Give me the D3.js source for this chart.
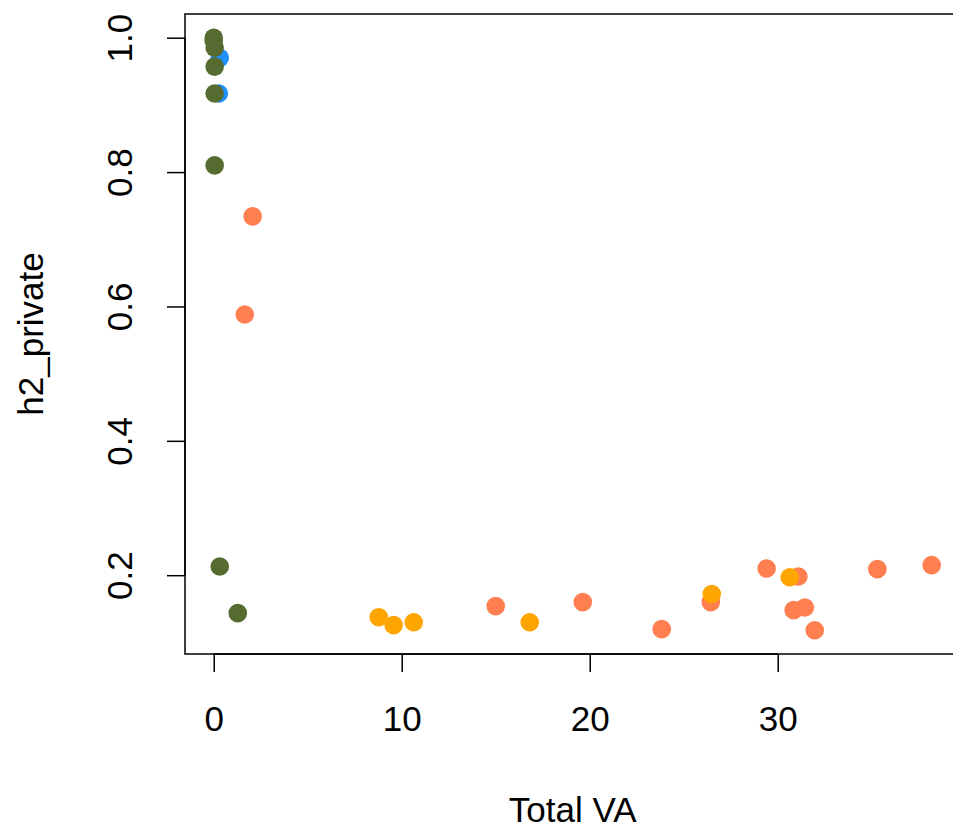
<!DOCTYPE html>
<html>
<head>
<meta charset="utf-8">
<script src="https://cdn.jsdelivr.net/npm/d3@7"></script>
<style>
  body { margin: 0; background: #fff; }
  text { font-family: "Liberation Sans", Arial, sans-serif; fill: #000; }
</style>
</head>
<body>
<div id="chart"></div>
<script>
// Data
const coralX  = [2.07, 1.65, 15.0, 19.63, 23.83, 26.44, 29.41, 31.1, 30.85, 31.44, 31.97, 35.3, 38.19];
const coralY  = [0.734, 0.588, 0.154, 0.160, 0.1197, 0.160, 0.210, 0.198, 0.148, 0.152, 0.118, 0.209, 0.215];
const orangeX = [8.78, 9.57, 10.64, 16.81, 26.49, 30.64];
const orangeY = [0.1375, 0.1257, 0.130, 0.130, 0.172, 0.197];
const blueX   = [0.32, 0.27];
const blueY   = [0.970, 0.917];
const oliveX  = [0.0, 0.0, 0.05, 0.05, 0.05, 0.05, 0.32, 1.28];
const oliveY  = [1.0, 0.9955, 0.985, 0.957, 0.917, 0.810, 0.213, 0.1435];
const xTicks = [0, 10, 20, 30];
const yTicks = [0.2, 0.4, 0.6, 0.8, 1.0];

const groups = [
  { xs: coralX, ys: coralY, color: '#FF7F50' },
  { xs: orangeX, ys: orangeY, color: '#FFA500' },
  { xs: blueX, ys: blueY, color: '#1E90FF' },
  { xs: oliveX, ys: oliveY, color: '#556B2F' }
];

//Chart dimensions
const width = 953, height = 831;
const plot = { left: 185, top: 14, bottom: 654 };
const fontSize = 35;

// R style 4% padding on the data range
const allX = [].concat(coralX, orangeX, blueX, oliveX);
const allY = [].concat(coralY, orangeY, blueY, oliveY);
const xr = d3.max(allX) - d3.min(allX);
const yr = d3.max(allY) - d3.min(allY);
const xDom = [d3.min(allX) - 0.04 * xr, d3.max(allX) + 0.04 * xr];
const yDom = [d3.min(allY) - 0.04 * yr, d3.max(allY) + 0.04 * yr];
const pxPerUnit = 18.8;
plot.right = plot.left + (xDom[1] - xDom[0]) * pxPerUnit;

// Scale
const xScale = d3.scaleLinear().domain(xDom).range([plot.left, plot.right]);
const yScale = d3.scaleLinear().domain(yDom).range([plot.bottom, plot.top]);

const svg = d3.select('#chart').append('svg')
  .attr('width', width)
  .attr('height', height);

//Points
groups.forEach(g => {
  svg.append('g').selectAll('circle')
    .data(g.xs.map((x, i) => [x, g.ys[i]]))
    .enter().append('circle')
    .attr('cx', d => xScale(d[0]))
    .attr('cy', d => yScale(d[1]))
    .attr('r', 9.3)
    .attr('fill', g.color);
});

//Box
svg.append('rect')
  .attr('x', plot.left)
  .attr('y', plot.top)
  .attr('width', plot.right - plot.left)
  .attr('height', plot.bottom - plot.top)
  .attr('fill', 'none')
  .attr('stroke', '#000')
  .attr('stroke-width', 1.5);

//Axes
const tick = 18;
const xAxisGroup = svg.append('g')
  .attr('transform', `translate(0, ${plot.bottom})`)
  .call(d3.axisBottom(xScale).tickValues(xTicks).tickSize(tick).tickPadding(34).tickFormat(d3.format('d')));

const yAxisGroup = svg.append('g')
  .attr('transform', `translate(${plot.left}, 0)`)
  .call(d3.axisLeft(yScale).tickValues(yTicks).tickSize(tick).tickFormat(d3.format('.1f')));

// R draws the axis line only between the outer ticks
xAxisGroup.select('.domain')
  .attr('d', `M${xScale(xTicks[0])},0H${xScale(xTicks[xTicks.length - 1])}`);
yAxisGroup.select('.domain')
  .attr('d', `M0,${yScale(yTicks[0])}V${yScale(yTicks[yTicks.length - 1])}`);

svg.selectAll('.domain, .tick line')
  .attr('stroke', '#000')
  .attr('stroke-width', 1.5);

xAxisGroup.selectAll('.tick text')
  .attr('font-size', fontSize)
  .attr('font-family', null)
  .attr('fill', '#000');

yAxisGroup.selectAll('.tick text')
  .attr('font-size', fontSize)
  .attr('font-family', null)
  .attr('fill', '#000')
  .attr('x', null)
  .attr('dy', null)
  .attr('text-anchor', 'middle')
  .attr('dominant-baseline', 'central')
  .attr('transform', 'translate(-66, 0) rotate(-90)');

svg.selectAll('.tick text').style('font-family', '"Liberation Sans", Arial, sans-serif');

//Axis titles
svg.append('text')
  .attr('x', (plot.left + plot.right) / 2)
  .attr('y', 822)
  .attr('text-anchor', 'middle')
  .attr('font-size', fontSize)
  .text('Total VA');

svg.append('text')
  .attr('transform', `translate(43, ${(plot.top + plot.bottom) / 2}) rotate(-90)`)
  .attr('text-anchor', 'middle')
  .attr('font-size', fontSize)
  .text('h2_private');
</script>
</body>
</html>
